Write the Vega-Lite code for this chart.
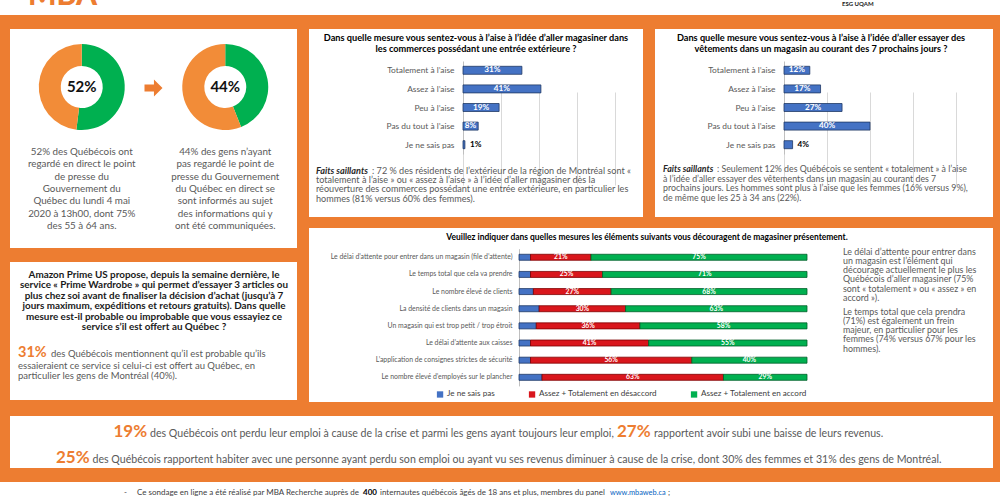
{
"$schema": "https://vega.github.io/schema/vega-lite/v6.json",
"background": "#ED7D31",
"padding": 0,
"spacing": 14,
"resolve": {"scale": {"color": "independent", "stroke": "independent", "theta": "independent", "opacity": "independent"}},
"config": {"font": "Lato", "view": {"stroke": null}, "text": {"font": "Lato"}, "axis": {"labelFont": "Lato"}, "legend": {"labelFont": "Lato"}},
"vconcat": [
{
 "width": 1000, "height": 15, "view": {"fill": "#FFFFFF", "stroke": null},
 "layer": [
  {"data": {"values": [{"t": "MBA"}]},
   "mark": {"type": "text", "fontSize": 30, "fontWeight": 900, "color": "#ED7D31", "align": "left", "baseline": "alphabetic", "clip": true},
   "encoding": {"text": {"field": "t"}, "x": {"datum": 28, "type": "quantitative", "scale": {"domain": [0, 1000], "range": [0, 1000]}, "axis": null}, "y": {"datum": 5, "type": "quantitative", "scale": {"domain": [0, 15], "range": [0, 15]}, "axis": null}}},
  {"data": {"values": [{"t": "ESG UQAM"}]},
   "mark": {"type": "text", "fontSize": 6, "fontWeight": "bold", "color": "#1A1A1A", "align": "left", "baseline": "alphabetic"},
   "encoding": {"text": {"field": "t"}, "x": {"datum": 842, "type": "quantitative", "scale": {"domain": [0, 1000], "range": [0, 1000]}, "axis": null}, "y": {"datum": 6, "type": "quantitative", "scale": {"domain": [0, 15], "range": [0, 15]}, "axis": null}}}
 ]
},
{
 "spacing": 9,
 "resolve": {"scale": {"color": "independent", "stroke": "independent", "theta": "independent"}},
 "hconcat": [
  {"width": 1, "height": 1, "data": {"values": []}, "mark": "point"},
  {
   "spacing": 12,
   "resolve": {"scale": {"color": "independent", "stroke": "independent", "theta": "independent"}},
   "hconcat": [
    {
     "spacing": 14,
     "vconcat": [
      {
       "width": 287, "height": 219, "view": {"fill": "#FFFFFF", "stroke": null},
       "data": {"values": [
        {"q": "a", "g": "vu", "v": 0.52},
        {"q": "a", "g": "non", "v": 0.48},
        {"q": "b", "g": "vu", "v": 0.44},
        {"q": "b", "g": "non", "v": 0.56}
       ]},
       "layer": [
        {"transform": [{"filter": "datum.q == 'a'"}],
         "mark": {"type": "arc", "outerRadius": 43, "innerRadius": 21},
         "encoding": {
          "theta": {"field": "v", "type": "quantitative", "stack": true, "scale": {"domain": [0, 1]}},
          "color": {"field": "g", "type": "nominal", "scale": {"domain": ["vu", "non"], "range": ["#00B050", "#F28C38"]}, "legend": null},
          "order": {"field": "g", "sort": "descending"},
          "x": {"field": "q", "type": "nominal", "scale": {"domain": ["a", "m", "b"], "padding": 1.18}, "axis": null},
          "y": {"datum": 58, "type": "quantitative", "scale": {"domain": [0, 219], "range": [0, 219]}, "axis": null}}},
        {"transform": [{"filter": "datum.q == 'b'"}],
         "mark": {"type": "arc", "outerRadius": 43, "innerRadius": 21},
         "encoding": {
          "theta": {"field": "v", "type": "quantitative", "stack": true, "scale": {"domain": [0, 1]}},
          "color": {"field": "g", "type": "nominal", "scale": {"domain": ["vu", "non"], "range": ["#00B050", "#F28C38"]}, "legend": null},
          "order": {"field": "g", "sort": "descending"},
          "x": {"field": "q", "type": "nominal", "scale": {"domain": ["a", "m", "b"], "padding": 1.18}, "axis": null},
          "y": {"datum": 58, "type": "quantitative", "scale": {"domain": [0, 219], "range": [0, 219]}, "axis": null}}},
        {"transform": [{"filter": "datum.g == 'vu'"}],
         "mark": {"type": "text", "fontSize": 15, "fontWeight": "bold", "color": "#111111", "baseline": "middle"},
         "encoding": {
          "text": {"field": "v", "type": "quantitative", "format": ".0%"},
          "x": {"field": "q", "type": "nominal", "scale": {"domain": ["a", "m", "b"], "padding": 1.18}, "axis": null},
          "y": {"datum": 58, "type": "quantitative", "scale": {"domain": [0, 219], "range": [0, 219]}, "axis": null}}},
        {"data": {"values": [{"q": "m"}]},
         "mark": {"type": "point", "shape": "M-1,-0.38L0.05,-0.38L0.05,-0.95L1,0L0.05,0.95L0.05,0.38L-1,0.38Z", "size": 324, "filled": true, "color": "#ED7D31", "opacity": 1},
         "encoding": {
          "x": {"field": "q", "type": "nominal", "scale": {"domain": ["a", "m", "b"], "padding": 1.18}, "axis": null},
          "y": {"datum": 59, "type": "quantitative", "scale": {"domain": [0, 219], "range": [0, 219]}, "axis": null}}},
        {"data": {"values": [
          {"q": "a", "t": "52% des Québécois ont\nregardé en direct le point\nde presse du\nGouvernement du\nQuébec du lundi 4 mai\n2020 à 13h00, dont 75%\ndes 55 à 64 ans."},
          {"q": "b", "t": "44% des gens n’ayant\npas regardé le point de\npresse du Gouvernement\ndu Québec en direct se\nsont informés au sujet\ndes informations qui y\nont été communiquées."}
         ]},
         "mark": {"type": "text", "fontSize": 9.8, "color": "#595959", "baseline": "top", "lineBreak": "\n", "lineHeight": 12.3, "align": "center"},
         "encoding": {
          "text": {"field": "t"},
          "x": {"field": "q", "type": "nominal", "scale": {"domain": ["a", "m", "b"], "padding": 1.18}, "axis": null},
          "y": {"datum": 118, "type": "quantitative", "scale": {"domain": [0, 219], "range": [0, 219]}, "axis": null}}}
       ]
      },
      {
       "width": 287, "height": 138, "view": {"fill": "#FFFFFF", "stroke": null},
       "layer": [
        {"data": {"values": [{"t": "Amazon Prime US propose, depuis la semaine dernière, le\nservice « Prime Wardrobe » qui permet d’essayer 3 articles ou\nplus chez soi avant de finaliser la décision d’achat (jusqu’à 7\njours maximum, expéditions et retours gratuits). Dans quelle\nmesure est-il probable ou improbable que vous essayiez ce\nservice s’il est offert au Québec ?"}]},
         "mark": {"type": "text", "fontSize": 9.9, "fontWeight": "bold", "color": "#1A1A1A", "baseline": "top", "lineBreak": "\n", "lineHeight": 10.4, "align": "center"},
         "encoding": {"text": {"field": "t"},
          "x": {"datum": 144, "type": "quantitative", "scale": {"domain": [0, 287], "range": [0, 287]}, "axis": null},
          "y": {"datum": 8, "type": "quantitative", "scale": {"domain": [0, 138], "range": [0, 138]}, "axis": null}}},
        {"data": {"values": [{"t": "31%"}]},
         "mark": {"type": "text", "fontSize": 14.5, "fontWeight": "bold", "color": "#ED7D31", "baseline": "alphabetic", "align": "left"},
         "encoding": {"text": {"field": "t"},
          "x": {"datum": 8, "type": "quantitative", "scale": {"domain": [0, 287], "range": [0, 287]}, "axis": null},
          "y": {"datum": 95, "type": "quantitative", "scale": {"domain": [0, 138], "range": [0, 138]}, "axis": null}}},
        {"data": {"values": [{"t": "des Québécois mentionnent qu’il est probable qu’ils"}]},
         "mark": {"type": "text", "fontSize": 9.5, "color": "#595959", "baseline": "alphabetic", "align": "left"},
         "encoding": {"text": {"field": "t"},
          "x": {"datum": 41, "type": "quantitative", "scale": {"domain": [0, 287], "range": [0, 287]}, "axis": null},
          "y": {"datum": 95, "type": "quantitative", "scale": {"domain": [0, 138], "range": [0, 138]}, "axis": null}}},
        {"data": {"values": [{"t": "essaieraient ce service si celui-ci est offert au Québec, en\nparticulier les gens de Montréal (40%)."}]},
         "mark": {"type": "text", "fontSize": 9.5, "color": "#595959", "baseline": "alphabetic", "align": "left", "lineBreak": "\n", "lineHeight": 10},
         "encoding": {"text": {"field": "t"},
          "x": {"datum": 8, "type": "quantitative", "scale": {"domain": [0, 287], "range": [0, 287]}, "axis": null},
          "y": {"datum": 106.5, "type": "quantitative", "scale": {"domain": [0, 138], "range": [0, 138]}, "axis": null}}}
       ]
      }
     ]
    },
    {
     "spacing": 11,
     "resolve": {"scale": {"color": "independent", "stroke": "independent", "opacity": "independent"}},
     "vconcat": [
      {
       "spacing": 12,
       "hconcat": [
        {
         "width": 334, "height": 188, "view": {"fill": "#FFFFFF", "stroke": null},
         "resolve": {"scale": {"x": "independent", "y": "independent"}},
         "layer": [
          {"data": {"values": [{"t": "Dans quelle mesure vous sentez-vous à l’aise à l’idée d’aller magasiner dans\nles commerces possédant une entrée extérieure ?"}]},
           "mark": {"type": "text", "fontSize": 9.2, "fontWeight": "bold", "color": "#000000", "baseline": "top", "lineBreak": "\n", "lineHeight": 11, "align": "center"},
           "encoding": {"text": {"field": "t"},
            "x": {"datum": 167, "type": "quantitative", "scale": {"domain": [0, 334], "range": [0, 334]}, "axis": null},
            "y": {"datum": 4.5, "type": "quantitative", "scale": {"domain": [0, 188], "range": [0, 188]}, "axis": null}}},
          {"data": {"values": [{"t": "Faits saillants"}]},
           "mark": {"type": "text", "fontSize": 9.1, "fontWeight": "bold", "fontStyle": "italic", "color": "#262626", "baseline": "alphabetic", "align": "left"},
           "encoding": {"text": {"field": "t"},
            "x": {"datum": 7, "type": "quantitative", "scale": {"domain": [0, 334], "range": [0, 334]}, "axis": null},
            "y": {"datum": 144.7, "type": "quantitative", "scale": {"domain": [0, 188], "range": [0, 188]}, "axis": null}}},
          {"data": {"values": [{"t": ": 72 % des résidents de l’extérieur de la région de Montréal sont «"}]},
           "mark": {"type": "text", "fontSize": 9.1, "color": "#595959", "baseline": "alphabetic", "align": "left"},
           "encoding": {"text": {"field": "t"},
            "x": {"datum": 63, "type": "quantitative", "scale": {"domain": [0, 334], "range": [0, 334]}, "axis": null},
            "y": {"datum": 144.7, "type": "quantitative", "scale": {"domain": [0, 188], "range": [0, 188]}, "axis": null}}},
          {"data": {"values": [{"t": "totalement à l’aise » ou « assez à l’aise » à l’idée d’aller magasiner dès la\nréouverture des commerces possédant une entrée extérieure, en particulier les\nhommes (81% versus 60% des femmes)."}]},
           "mark": {"type": "text", "fontSize": 9.1, "color": "#595959", "baseline": "alphabetic", "align": "left", "lineBreak": "\n", "lineHeight": 9.4},
           "encoding": {"text": {"field": "t"},
            "x": {"datum": 7, "type": "quantitative", "scale": {"domain": [0, 334], "range": [0, 334]}, "axis": null},
            "y": {"datum": 154.1, "type": "quantitative", "scale": {"domain": [0, 188], "range": [0, 188]}, "axis": null}}},
          {
           "data": {"values": [
            {"cat": "Totalement à l’aise", "v": 0.31},
            {"cat": "Assez à l’aise", "v": 0.41},
            {"cat": "Peu à l’aise", "v": 0.19},
            {"cat": "Pas du tout à l’aise", "v": 0.08},
            {"cat": "Je ne sais pas", "v": 0.01}
           ]},
           "encoding": {
            "y": {"field": "cat", "type": "nominal", "sort": null,
                  "scale": {"domain": ["Totalement à l’aise", "Assez à l’aise", "Peu à l’aise", "Pas du tout à l’aise", "Je ne sais pas"], "range": [32, 125], "paddingInner": 0.57, "paddingOuter": 0.285},
                  "axis": {"offset": -154, "title": null, "ticks": false, "labelPadding": 9, "labelFontSize": 8.4, "labelColor": "#595959", "domainColor": "#BFBFBF", "labelLimit": 200}}
           },
           "layer": [
            {"mark": {"type": "bar", "fill": "#4472C4", "stroke": "#1F3864", "strokeWidth": 0.8},
             "encoding": {"x": {"field": "v", "type": "quantitative", "scale": {"domain": [0, 0.8], "range": [154, 306]},
               "axis": {"grid": true, "values": [0, 0.2, 0.4, 0.6, 0.8], "labels": false, "ticks": false, "domain": false, "title": null, "gridColor": "#D9D9D9"}}}},
            {"transform": [{"filter": "datum.cat != 'Je ne sais pas'"}],
             "mark": {"type": "text", "color": "#FFFFFF", "fontWeight": "bold", "fontSize": 8.2, "baseline": "middle"},
             "encoding": {"x": {"field": "v", "type": "quantitative", "stack": "zero", "bandPosition": 0.5}, "text": {"field": "v", "type": "quantitative", "format": ".0%"}}},
            {"transform": [{"filter": "datum.cat == 'Je ne sais pas'"}],
             "mark": {"type": "text", "color": "#000000", "fontWeight": "bold", "fontSize": 8.2, "baseline": "middle", "align": "left", "dx": 5},
             "encoding": {"x": {"field": "v", "type": "quantitative"}, "text": {"field": "v", "type": "quantitative", "format": ".0%"}}}
           ]
          }
         ]
        },
        {
         "width": 338, "height": 188, "view": {"fill": "#FFFFFF", "stroke": null},
         "resolve": {"scale": {"x": "independent", "y": "independent"}},
         "layer": [
          {"data": {"values": [{"t": "Dans quelle mesure vous sentez-vous à l’aise à l’idée d’aller essayer des\nvêtements dans un magasin au courant des 7 prochains jours ?"}]},
           "mark": {"type": "text", "fontSize": 9.2, "fontWeight": "bold", "color": "#000000", "baseline": "top", "lineBreak": "\n", "lineHeight": 11, "align": "center"},
           "encoding": {"text": {"field": "t"},
            "x": {"datum": 166, "type": "quantitative", "scale": {"domain": [0, 338], "range": [0, 338]}, "axis": null},
            "y": {"datum": 4.5, "type": "quantitative", "scale": {"domain": [0, 188], "range": [0, 188]}, "axis": null}}},
          {"data": {"values": [{"t": "Faits saillants"}]},
           "mark": {"type": "text", "fontSize": 8.8, "fontWeight": "bold", "fontStyle": "italic", "color": "#262626", "baseline": "alphabetic", "align": "left"},
           "encoding": {"text": {"field": "t"},
            "x": {"datum": 8, "type": "quantitative", "scale": {"domain": [0, 338], "range": [0, 338]}, "axis": null},
            "y": {"datum": 143, "type": "quantitative", "scale": {"domain": [0, 188], "range": [0, 188]}, "axis": null}}},
          {"data": {"values": [{"t": ": Seulement 12% des Québécois se sentent « totalement » à l’aise"}]},
           "mark": {"type": "text", "fontSize": 8.8, "color": "#595959", "baseline": "alphabetic", "align": "left"},
           "encoding": {"text": {"field": "t"},
            "x": {"datum": 62, "type": "quantitative", "scale": {"domain": [0, 338], "range": [0, 338]}, "axis": null},
            "y": {"datum": 143, "type": "quantitative", "scale": {"domain": [0, 188], "range": [0, 188]}, "axis": null}}},
          {"data": {"values": [{"t": "à l’idée d’aller essayer des vêtements dans un magasin au courant des 7\nprochains jours. Les hommes sont plus à l’aise que les femmes (16% versus 9%),\nde même que les 25 à 34 ans (22%)."}]},
           "mark": {"type": "text", "fontSize": 8.8, "color": "#595959", "baseline": "alphabetic", "align": "left", "lineBreak": "\n", "lineHeight": 9.67},
           "encoding": {"text": {"field": "t"},
            "x": {"datum": 8, "type": "quantitative", "scale": {"domain": [0, 338], "range": [0, 338]}, "axis": null},
            "y": {"datum": 152.7, "type": "quantitative", "scale": {"domain": [0, 188], "range": [0, 188]}, "axis": null}}},
          {
           "data": {"values": [
            {"cat": "Totalement à l’aise", "v": 0.12},
            {"cat": "Assez à l’aise", "v": 0.17},
            {"cat": "Peu à l’aise", "v": 0.27},
            {"cat": "Pas du tout à l’aise", "v": 0.40},
            {"cat": "Je ne sais pas", "v": 0.04}
           ]},
           "encoding": {
            "y": {"field": "cat", "type": "nominal", "sort": null,
                  "scale": {"domain": ["Totalement à l’aise", "Assez à l’aise", "Peu à l’aise", "Pas du tout à l’aise", "Je ne sais pas"], "range": [32, 125], "paddingInner": 0.57, "paddingOuter": 0.285},
                  "axis": {"offset": -129, "title": null, "ticks": false, "labelPadding": 9, "labelFontSize": 8.4, "labelColor": "#595959", "domainColor": "#BFBFBF", "labelLimit": 200}}
           },
           "layer": [
            {"mark": {"type": "bar", "fill": "#4472C4", "stroke": "#1F3864", "strokeWidth": 0.8},
             "encoding": {"x": {"field": "v", "type": "quantitative", "scale": {"domain": [0, 0.8], "range": [129, 301]},
               "axis": {"grid": true, "values": [0, 0.2, 0.4, 0.6, 0.8], "labels": false, "ticks": false, "domain": false, "title": null, "gridColor": "#D9D9D9"}}}},
            {"transform": [{"filter": "datum.cat != 'Je ne sais pas'"}],
             "mark": {"type": "text", "color": "#FFFFFF", "fontWeight": "bold", "fontSize": 8.2, "baseline": "middle"},
             "encoding": {"x": {"field": "v", "type": "quantitative", "stack": "zero", "bandPosition": 0.5}, "text": {"field": "v", "type": "quantitative", "format": ".0%"}}},
            {"transform": [{"filter": "datum.cat == 'Je ne sais pas'"}],
             "mark": {"type": "text", "color": "#000000", "fontWeight": "bold", "fontSize": 8.2, "baseline": "middle", "align": "left", "dx": 5},
             "encoding": {"x": {"field": "v", "type": "quantitative"}, "text": {"field": "v", "type": "quantitative", "format": ".0%"}}}
           ]
          }
         ]
        }
       ]
      },
      {
       "width": 684, "height": 174, "view": {"fill": "#FFFFFF", "stroke": null},
       "resolve": {"scale": {"x": "independent", "y": "independent"}},
       "layer": [
        {"data": {"values": [{"t": "Veuillez indiquer dans quelles mesures les éléments suivants vous découragent de magasiner présentement."}]},
         "mark": {"type": "text", "fontSize": 8.45, "fontWeight": "bold", "color": "#000000", "baseline": "middle", "align": "center"},
         "encoding": {"text": {"field": "t"},
          "x": {"datum": 338, "type": "quantitative", "scale": {"domain": [0, 684], "range": [0, 684]}, "axis": null},
          "y": {"datum": 8.7, "type": "quantitative", "scale": {"domain": [0, 174], "range": [0, 174]}, "axis": null}}},
        {"data": {"values": [{"t": "Le délai d’attente pour entrer dans\nun magasin est l’élément qui\ndécourage actuellement le plus les\nQuébécois d’aller magasiner (75%\nsont « totalement » ou « assez » en\naccord »)."}]},
         "mark": {"type": "text", "fontSize": 8.9, "color": "#595959", "baseline": "alphabetic", "align": "left", "lineBreak": "\n", "lineHeight": 9.3},
         "encoding": {"text": {"field": "t"},
          "x": {"datum": 534, "type": "quantitative", "scale": {"domain": [0, 684], "range": [0, 684]}, "axis": null},
          "y": {"datum": 26.5, "type": "quantitative", "scale": {"domain": [0, 174], "range": [0, 174]}, "axis": null}}},
        {"data": {"values": [{"t": "Le temps total que cela prendra\n(71%) est également un frein\nmajeur, en particulier pour les\nfemmes (74% versus 67% pour les\nhommes)."}]},
         "mark": {"type": "text", "fontSize": 8.9, "color": "#595959", "baseline": "alphabetic", "align": "left", "lineBreak": "\n", "lineHeight": 9.3},
         "encoding": {"text": {"field": "t"},
          "x": {"datum": 534, "type": "quantitative", "scale": {"domain": [0, 684], "range": [0, 684]}, "axis": null},
          "y": {"datum": 86.5, "type": "quantitative", "scale": {"domain": [0, 174], "range": [0, 174]}, "axis": null}}},
        {
         "data": {"values": [
          {"cat": "Le délai d’attente pour entrer dans un magasin (file d’attente)", "s": "Je ne sais pas", "v": 0.04},
          {"cat": "Le délai d’attente pour entrer dans un magasin (file d’attente)", "s": "Assez + Totalement en désaccord", "v": 0.21},
          {"cat": "Le délai d’attente pour entrer dans un magasin (file d’attente)", "s": "Assez + Totalement en accord", "v": 0.75},
          {"cat": "Le temps total que cela va prendre", "s": "Je ne sais pas", "v": 0.04},
          {"cat": "Le temps total que cela va prendre", "s": "Assez + Totalement en désaccord", "v": 0.25},
          {"cat": "Le temps total que cela va prendre", "s": "Assez + Totalement en accord", "v": 0.71},
          {"cat": "Le nombre élevé de clients", "s": "Je ne sais pas", "v": 0.05},
          {"cat": "Le nombre élevé de clients", "s": "Assez + Totalement en désaccord", "v": 0.27},
          {"cat": "Le nombre élevé de clients", "s": "Assez + Totalement en accord", "v": 0.68},
          {"cat": "La densité de clients dans un magasin", "s": "Je ne sais pas", "v": 0.07},
          {"cat": "La densité de clients dans un magasin", "s": "Assez + Totalement en désaccord", "v": 0.30},
          {"cat": "La densité de clients dans un magasin", "s": "Assez + Totalement en accord", "v": 0.63},
          {"cat": "Un magasin qui est trop petit / trop étroit", "s": "Je ne sais pas", "v": 0.06},
          {"cat": "Un magasin qui est trop petit / trop étroit", "s": "Assez + Totalement en désaccord", "v": 0.36},
          {"cat": "Un magasin qui est trop petit / trop étroit", "s": "Assez + Totalement en accord", "v": 0.58},
          {"cat": "Le délai d’attente aux caisses", "s": "Je ne sais pas", "v": 0.04},
          {"cat": "Le délai d’attente aux caisses", "s": "Assez + Totalement en désaccord", "v": 0.41},
          {"cat": "Le délai d’attente aux caisses", "s": "Assez + Totalement en accord", "v": 0.55},
          {"cat": "L’application de consignes strictes de sécurité", "s": "Je ne sais pas", "v": 0.04},
          {"cat": "L’application de consignes strictes de sécurité", "s": "Assez + Totalement en désaccord", "v": 0.56},
          {"cat": "L’application de consignes strictes de sécurité", "s": "Assez + Totalement en accord", "v": 0.40},
          {"cat": "Le nombre élevé d’employés sur le plancher", "s": "Je ne sais pas", "v": 0.08},
          {"cat": "Le nombre élevé d’employés sur le plancher", "s": "Assez + Totalement en désaccord", "v": 0.63},
          {"cat": "Le nombre élevé d’employés sur le plancher", "s": "Assez + Totalement en accord", "v": 0.29}
         ]},
         "encoding": {
          "y": {"field": "cat", "type": "nominal", "sort": null,
                "scale": {"domain": ["Le délai d’attente pour entrer dans un magasin (file d’attente)", "Le temps total que cela va prendre", "Le nombre élevé de clients", "La densité de clients dans un magasin", "Un magasin qui est trop petit / trop étroit", "Le délai d’attente aux caisses", "L’application de consignes strictes de sécurité", "Le nombre élevé d’employés sur le plancher"], "range": [20.7, 157.9], "paddingInner": 0.65, "paddingOuter": 0.325},
                "axis": {"offset": -210, "title": null, "ticks": false, "labelPadding": 7, "labelFontSize": 6.9, "labelColor": "#595959", "domainColor": "#BFBFBF", "labelLimit": 250}},
          "order": {"field": "s", "sort": "descending"}
         },
         "layer": [
          {"mark": {"type": "bar", "strokeWidth": 0.8},
           "encoding": {
            "x": {"field": "v", "type": "quantitative", "stack": "zero", "scale": {"domain": [0, 1], "range": [210, 498]}, "axis": null},
            "color": {"field": "s", "type": "nominal", "scale": {"domain": ["Je ne sais pas", "Assez + Totalement en désaccord", "Assez + Totalement en accord"], "range": ["#4472C4", "#D9161C", "#00B050"]},
              "legend": {"orient": "none", "legendX": 127, "legendY": 162, "direction": "horizontal", "title": null, "symbolType": "square", "symbolSize": 40, "symbolStrokeWidth": 0, "labelFontSize": 8.1, "labelColor": "#404040", "columnPadding": 33, "padding": 0, "labelOffset": 3}},
            "stroke": {"field": "s", "type": "nominal", "scale": {"domain": ["Je ne sais pas", "Assez + Totalement en désaccord", "Assez + Totalement en accord"], "range": ["#1F3864", "#7F0000", "#00602A"]}, "legend": null}}},
          {"mark": {"type": "text", "color": "#FFFFFF", "fontWeight": "bold", "fontSize": 6.8, "baseline": "middle"},
           "encoding": {
            "x": {"field": "v", "type": "quantitative", "stack": "zero", "bandPosition": 0.5},
            "detail": {"field": "s"},
            "text": {"field": "v", "type": "quantitative", "format": ".0%"},
            "opacity": {"condition": {"test": "datum.s == 'Je ne sais pas'", "value": 0}, "value": 1}}}
         ]
        }
       ]
      }
     ]
    }
   ]
  }
 ]
},
{
 "spacing": 9,
 "hconcat": [
  {"width": 1, "height": 1, "data": {"values": []}, "mark": "point"},
  {
   "width": 983, "height": 52, "view": {"fill": "#FFFFFF", "stroke": null},
   "layer": [
    {"data": {"values": [{"t": "19%"}]},
     "mark": {"type": "text", "fontSize": 17, "fontWeight": "bold", "color": "#ED7D31", "baseline": "alphabetic", "align": "left"},
     "encoding": {"text": {"field": "t"},
      "x": {"datum": 103.5, "type": "quantitative", "scale": {"domain": [0, 983], "range": [0, 983]}, "axis": null},
      "y": {"datum": 21, "type": "quantitative", "scale": {"domain": [0, 52], "range": [0, 52]}, "axis": null}}},
    {"data": {"values": [{"t": "des Québécois ont perdu leur emploi à cause de la crise et parmi les gens ayant toujours leur emploi,"}]},
     "mark": {"type": "text", "fontSize": 10.6, "color": "#595959", "baseline": "alphabetic", "align": "left"},
     "encoding": {"text": {"field": "t"},
      "x": {"datum": 140, "type": "quantitative", "scale": {"domain": [0, 983], "range": [0, 983]}, "axis": null},
      "y": {"datum": 21, "type": "quantitative", "scale": {"domain": [0, 52], "range": [0, 52]}, "axis": null}}},
    {"data": {"values": [{"t": "27%"}]},
     "mark": {"type": "text", "fontSize": 17, "fontWeight": "bold", "color": "#ED7D31", "baseline": "alphabetic", "align": "left"},
     "encoding": {"text": {"field": "t"},
      "x": {"datum": 607, "type": "quantitative", "scale": {"domain": [0, 983], "range": [0, 983]}, "axis": null},
      "y": {"datum": 21, "type": "quantitative", "scale": {"domain": [0, 52], "range": [0, 52]}, "axis": null}}},
    {"data": {"values": [{"t": "rapportent avoir subi une baisse de leurs revenus."}]},
     "mark": {"type": "text", "fontSize": 10.6, "color": "#595959", "baseline": "alphabetic", "align": "left"},
     "encoding": {"text": {"field": "t"},
      "x": {"datum": 644, "type": "quantitative", "scale": {"domain": [0, 983], "range": [0, 983]}, "axis": null},
      "y": {"datum": 21, "type": "quantitative", "scale": {"domain": [0, 52], "range": [0, 52]}, "axis": null}}},
    {"data": {"values": [{"t": "25%"}]},
     "mark": {"type": "text", "fontSize": 17, "fontWeight": "bold", "color": "#ED7D31", "baseline": "alphabetic", "align": "left"},
     "encoding": {"text": {"field": "t"},
      "x": {"datum": 46, "type": "quantitative", "scale": {"domain": [0, 983], "range": [0, 983]}, "axis": null},
      "y": {"datum": 47, "type": "quantitative", "scale": {"domain": [0, 52], "range": [0, 52]}, "axis": null}}},
    {"data": {"values": [{"t": "des Québécois rapportent habiter avec une personne ayant perdu son emploi ou ayant vu ses revenus diminuer à cause de la crise, dont 30% des femmes et 31% des gens de Montréal."}]},
     "mark": {"type": "text", "fontSize": 10.6, "color": "#595959", "baseline": "alphabetic", "align": "left"},
     "encoding": {"text": {"field": "t"},
      "x": {"datum": 82.5, "type": "quantitative", "scale": {"domain": [0, 983], "range": [0, 983]}, "axis": null},
      "y": {"datum": 47, "type": "quantitative", "scale": {"domain": [0, 52], "range": [0, 52]}, "axis": null}}}
   ]
  }
 ]
},
{
 "width": 1000, "height": 18, "view": {"fill": "#FFFFFF", "stroke": null},
 "layer": [
  {"data": {"values": [{"t": "-"}]},
   "mark": {"type": "text", "fontSize": 8, "color": "#404040", "baseline": "alphabetic", "align": "left"},
   "encoding": {"text": {"field": "t"},
    "x": {"datum": 124, "type": "quantitative", "scale": {"domain": [0, 1000], "range": [0, 1000]}, "axis": null},
    "y": {"datum": 12.5, "type": "quantitative", "scale": {"domain": [0, 18], "range": [0, 18]}, "axis": null}}},
  {"data": {"values": [{"t": "Ce sondage en ligne a été réalisé par MBA Recherche auprès de"}]},
   "mark": {"type": "text", "fontSize": 8, "color": "#404040", "baseline": "alphabetic", "align": "left"},
   "encoding": {"text": {"field": "t"},
    "x": {"datum": 137, "type": "quantitative", "scale": {"domain": [0, 1000], "range": [0, 1000]}, "axis": null},
    "y": {"datum": 12.5, "type": "quantitative", "scale": {"domain": [0, 18], "range": [0, 18]}, "axis": null}}},
  {"data": {"values": [{"t": "400"}]},
   "mark": {"type": "text", "fontSize": 8, "fontWeight": "bold", "color": "#000000", "baseline": "alphabetic", "align": "left"},
   "encoding": {"text": {"field": "t"},
    "x": {"datum": 363, "type": "quantitative", "scale": {"domain": [0, 1000], "range": [0, 1000]}, "axis": null},
    "y": {"datum": 12.5, "type": "quantitative", "scale": {"domain": [0, 18], "range": [0, 18]}, "axis": null}}},
  {"data": {"values": [{"t": "internautes québécois âgés de 18 ans et plus, membres du panel"}]},
   "mark": {"type": "text", "fontSize": 8, "color": "#404040", "baseline": "alphabetic", "align": "left"},
   "encoding": {"text": {"field": "t"},
    "x": {"datum": 380, "type": "quantitative", "scale": {"domain": [0, 1000], "range": [0, 1000]}, "axis": null},
    "y": {"datum": 12.5, "type": "quantitative", "scale": {"domain": [0, 18], "range": [0, 18]}, "axis": null}}},
  {"data": {"values": [{"t": "www.mbaweb.ca"}]},
   "mark": {"type": "text", "fontSize": 7.4, "color": "#0563C1", "baseline": "alphabetic", "align": "left"},
   "encoding": {"text": {"field": "t"},
    "x": {"datum": 610, "type": "quantitative", "scale": {"domain": [0, 1000], "range": [0, 1000]}, "axis": null},
    "y": {"datum": 12.5, "type": "quantitative", "scale": {"domain": [0, 18], "range": [0, 18]}, "axis": null}}},
  {"data": {"values": [{"t": ";"}]},
   "mark": {"type": "text", "fontSize": 8, "color": "#404040", "baseline": "alphabetic", "align": "left"},
   "encoding": {"text": {"field": "t"},
    "x": {"datum": 668, "type": "quantitative", "scale": {"domain": [0, 1000], "range": [0, 1000]}, "axis": null},
    "y": {"datum": 12.5, "type": "quantitative", "scale": {"domain": [0, 18], "range": [0, 18]}, "axis": null}}}
 ]
}
]
}
